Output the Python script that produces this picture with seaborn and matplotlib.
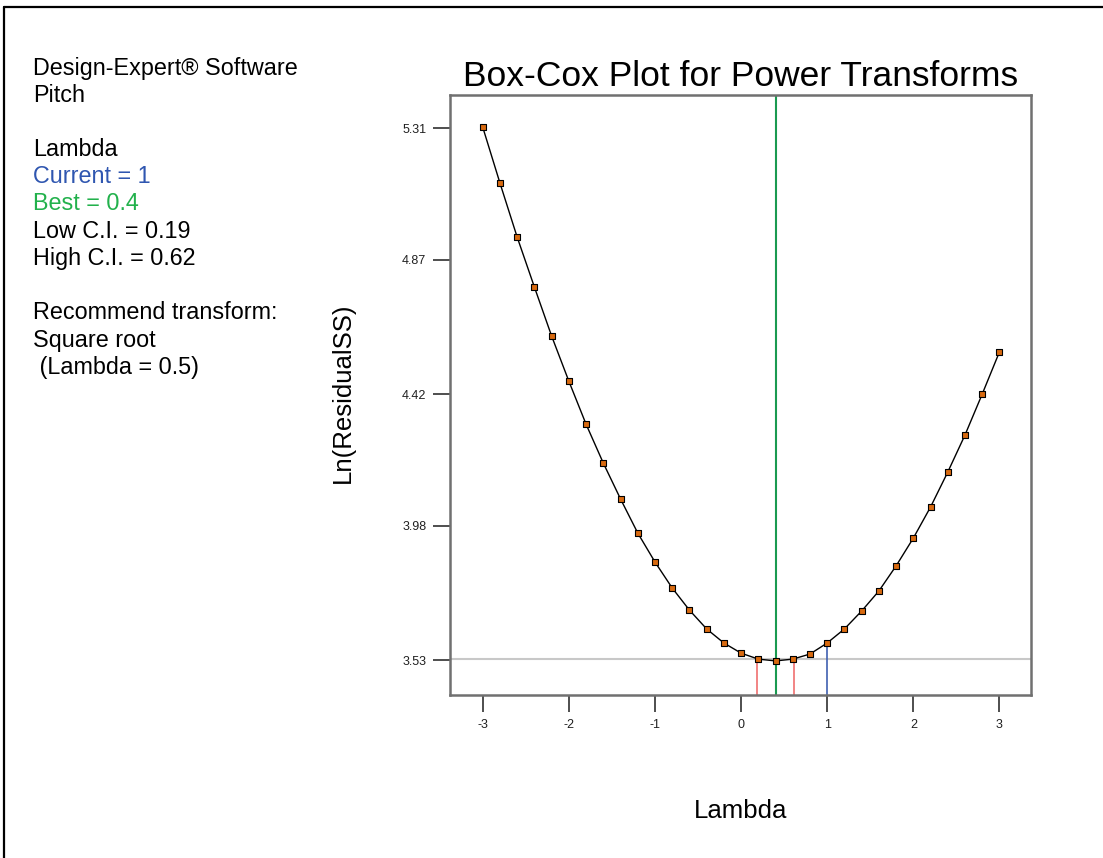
import pandas as pd
import seaborn as sns
import matplotlib.pyplot as plt
from matplotlib.lines import Line2D

# values
lam = [-3.0, -2.8, -2.6, -2.4, -2.2, -2.0, -1.8, -1.6, -1.4, -1.2, -1.0,
       -0.8, -0.6, -0.4, -0.2, 0.0, 0.2, 0.4, 0.6, 0.8, 1.0,
       1.2, 1.4, 1.6, 1.8, 2.0, 2.2, 2.4, 2.6, 2.8, 3.0]
ln_rss = [5.313, 5.126, 4.945, 4.778, 4.614, 4.463, 4.319, 4.189, 4.069, 3.955, 3.858,
          3.771, 3.697, 3.634, 3.587, 3.553, 3.533, 3.527, 3.533, 3.550, 3.587,
          3.634, 3.694, 3.761, 3.845, 3.938, 4.042, 4.159, 4.283, 4.420, 4.561]
y_ticks = [3.53, 3.98, 4.42, 4.87, 5.31]
x_ticks = [-3, -2, -1, 0, 1, 2, 3]
current_lam = 1.0
best_lam = 0.4
low_ci = 0.19
high_ci = 0.62
ci_level = 3.532
current_val = 3.587

df = pd.DataFrame({'Lambda': lam, 'LnRSS': ln_rss})

sns.set_theme(style="white")
plt.rcParams['font.family'] = ['Liberation Sans', 'DejaVu Sans']

fig = plt.figure(figsize=(11.03, 8.58), dpi=100)
ax = fig.add_axes([0.408, 0.190, 0.527, 0.699])

ax.axhline(ci_level, color='#c8c8c8', lw=1.5, zorder=1)
ax.axvline(best_lam, color='#1a9a50', lw=1.5, zorder=2)
ybot = 3.413
ax.vlines([low_ci, high_ci], ybot, ci_level, color='#f07070', lw=1.2, zorder=2)
ax.vlines([current_lam], ybot, current_val, color='#4060b0', lw=1.2, zorder=2)

sns.lineplot(data=df, x='Lambda', y='LnRSS', ax=ax, color='black', lw=1.0, zorder=3)
sns.scatterplot(data=df, x='Lambda', y='LnRSS', ax=ax, marker='s', s=18,
                color='#d86a10', edgecolor='black', linewidth=0.8, zorder=4)

ax.set_xlim(-3.38, 3.37)
ax.set_ylim(3.413, 5.42)
ax.set_xticks(x_ticks)
ax.set_xticklabels([str(t) for t in x_ticks])
ax.set_yticks(y_ticks)
ax.set_yticklabels([f'{t:.2f}' for t in y_ticks])
ax.tick_params(axis='both', direction='out', length=12, width=1.2, color='#303030',
               labelsize=9, labelcolor='#202020', pad=5, left=True, bottom=True)
for s in ax.spines.values():
    s.set_color('#707070')
    s.set_linewidth(1.8)

ax.set_xlabel('')
ax.set_ylabel('')
ax.set_title('Box-Cox Plot for Power Transforms', fontsize=25.5, color='black', pad=7)
fig.text(0.671, 0.055, 'Lambda', ha='center', va='center', fontsize=18.5, color='black')
fig.text(0.311, 0.542, 'Ln(ResidualSS)', ha='center', va='center', fontsize=18.5,
         rotation=90, color='black')

lines = [('Design-Expert® Software', 'black'), ('Pitch', 'black'), ('', 'black'),
         ('Lambda', 'black'), ('Current = 1', '#2f56b0'), ('Best = 0.4', '#22b14c'),
         ('Low C.I. = 0.19', 'black'), ('High C.I. = 0.62', 'black'), ('', 'black'),
         ('Recommend transform:', 'black'), ('Square root', 'black'), (' (Lambda = 0.5)', 'black')]
y0 = 68
for i, (t, c) in enumerate(lines):
    fig.text(33 / 1103, 1 - (y0 + 27.2 * i) / 858, t, color=c, fontsize=16.8,
             ha='left', va='center')

# outer frame (clipped on right and bottom like the reference)
fig.add_artist(Line2D([4 / 1103, 4 / 1103], [0, 1 - 7 / 858], color='black', lw=1.6))
fig.add_artist(Line2D([4 / 1103, 1], [1 - 7 / 858, 1 - 7 / 858], color='black', lw=1.6))

fig.savefig('out.png', dpi=100)
